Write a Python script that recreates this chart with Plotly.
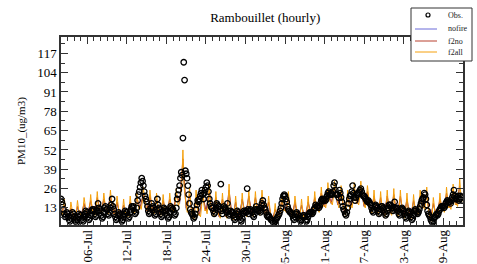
import pandas as pd
import plotly.graph_objects as go

# Observations, 3-hourly from 2019-07-02 00:00 to 2019-08-31 21:00
obs = [
    19, 17, 15, 12, 9, 7, 8, 10,
    9, 7, 5, 4, 6, 8, 10, 9,
    7, 5, 4, 3, 5, 7, 9, 8,
    8, 6, 5, 4, 7, 9, 11, 10,
    9, 7, 5, 6, 8, 11, 12, 11,
    12, 9, 7, 8, 11, 16, 13, 12,
    11, 8, 6, 7, 10, 13, 14, 12,
    12, 9, 8, 10, 13, 15, 19, 14,
    12, 9, 7, 5, 6, 8, 10, 9,
    8, 6, 4, 5, 7, 9, 11, 10,
    10, 8, 6, 7, 10, 12, 14, 13,
    14, 11, 9, 10, 13, 18, 22, 24,
    27, 30, 33, 31, 28, 24, 21, 19,
    17, 14, 11, 9, 10, 13, 16, 14,
    13, 10, 8, 9, 12, 19, 15, 13,
    12, 9, 7, 8, 11, 13, 12, 11,
    11, 8, 6, 7, 10, 14, 13, 12,
    12, 10, 8, 9, 13, 19, 22, 25,
    28, 33, 37, 35, 60, 111, 99, 38,
    36, 33, 28, 22, 16, 12, 10, 9,
    8, 6, 7, 9, 12, 15, 18, 17,
    19, 21, 23, 25, 22, 19, 23, 25,
    27, 30, 28, 24, 19, 16, 14, 13,
    13, 11, 9, 10, 13, 16, 15, 14,
    14, 12, 29, 11, 9, 12, 14, 13,
    12, 10, 16, 11, 8, 9, 11, 10,
    10, 8, 6, 5, 7, 9, 11, 10,
    9, 7, 5, 4, 6, 9, 11, 10,
    11, 10, 26, 12, 9, 11, 12, 11,
    10, 8, 7, 9, 12, 14, 12, 11,
    12, 11, 10, 13, 16, 18, 15, 13,
    12, 10, 8, 7, 8, 7, 6, 5,
    5, 4, 3, 3, 4, 5, 6, 7,
    8, 9, 11, 13, 16, 19, 21, 22,
    21, 19, 17, 14, 12, 11, 10, 10,
    9, 8, 6, 5, 7, 9, 10, 9,
    8, 6, 5, 4, 5, 7, 8, 8,
    7, 5, 4, 5, 7, 9, 10, 10,
    10, 9, 10, 12, 13, 15, 14, 14,
    14, 13, 14, 16, 18, 19, 18, 18,
    19, 18, 19, 21, 23, 24, 22, 22,
    23, 22, 24, 28, 30, 25, 22, 22,
    22, 20, 25, 23, 20, 17, 14, 12,
    11, 9, 8, 10, 13, 16, 19, 21,
    22, 24, 28, 23, 20, 18, 20, 22,
    22, 23, 24, 25, 26, 24, 22, 21,
    21, 20, 19, 18, 17, 18, 17, 16,
    15, 13, 11, 10, 12, 14, 15, 14,
    13, 11, 9, 10, 12, 14, 14, 13,
    12, 10, 8, 9, 11, 13, 15, 15,
    15, 14, 13, 11, 12, 17, 13, 12,
    13, 11, 9, 8, 10, 12, 13, 12,
    11, 9, 7, 6, 8, 10, 11, 10,
    9, 7, 5, 6, 8, 11, 12, 11,
    10, 9, 10, 12, 14, 16, 18, 19,
    20, 23, 22, 19, 15, 11, 9, 8,
    7, 5, 4, 3, 4, 6, 7, 8,
    9, 8, 9, 11, 12, 13, 14, 14,
    14, 13, 14, 16, 17, 18, 17, 17,
    17, 16, 18, 20, 22, 25, 21, 19,
    20, 19, 21, 18, 19, 21, 20, 18,
]

# Model f2all, 4-hourly (00,04,08,12,16,20)
f2all = [
    10, 8, 12, 19, 13, 9,
    7, 5, 9, 17, 11, 8,
    6, 5, 10, 18, 12, 9,
    8, 6, 11, 20, 13, 10,
    9, 7, 12, 22, 14, 10,
    10, 8, 13, 24, 15, 11,
    11, 9, 14, 23, 16, 12,
    12, 9, 15, 25, 17, 12,
    10, 8, 12, 21, 13, 9,
    8, 6, 11, 19, 12, 9,
    9, 7, 12, 21, 14, 10,
    11, 9, 14, 24, 16, 12,
    14, 12, 17, 27, 19, 14,
    12, 10, 15, 25, 16, 11,
    11, 9, 14, 23, 15, 11,
    10, 8, 13, 22, 14, 10,
    10, 8, 13, 23, 15, 11,
    12, 10, 16, 26, 18, 14,
    18, 22, 30, 52, 28, 18,
    14, 10, 16, 27, 15, 9,
    7, 5, 12, 25, 14, 8,
    9, 7, 14, 27, 16, 11,
    12, 9, 15, 29, 17, 11,
    10, 7, 13, 24, 14, 9,
    8, 6, 12, 23, 13, 8,
    8, 6, 13, 29, 14, 8,
    7, 5, 11, 21, 12, 7,
    7, 5, 12, 23, 13, 8,
    9, 7, 13, 25, 14, 9,
    9, 7, 13, 24, 14, 10,
    10, 8, 14, 25, 16, 11,
    9, 7, 12, 21, 12, 7,
    5, 4, 8, 16, 9, 6,
    8, 7, 12, 22, 15, 11,
    12, 10, 14, 24, 15, 10,
    8, 6, 11, 21, 12, 8,
    7, 5, 10, 19, 11, 7,
    7, 5, 11, 21, 12, 8,
    9, 7, 13, 24, 15, 11,
    12, 10, 15, 27, 18, 14,
    15, 13, 18, 30, 21, 17,
    17, 15, 20, 31, 22, 18,
    16, 13, 18, 28, 19, 14,
    11, 8, 14, 25, 16, 12,
    15, 13, 19, 30, 21, 16,
    17, 15, 20, 31, 22, 17,
    15, 13, 18, 28, 19, 14,
    11, 9, 14, 25, 15, 10,
    10, 8, 13, 24, 14, 10,
    9, 7, 13, 25, 15, 10,
    10, 8, 14, 26, 15, 10,
    9, 7, 13, 25, 14, 9,
    8, 6, 12, 23, 13, 8,
    7, 6, 11, 22, 13, 9,
    10, 8, 14, 25, 17, 13,
    14, 12, 16, 27, 14, 9,
    6, 4, 9, 20, 11, 7,
    8, 7, 13, 23, 15, 11,
    12, 10, 15, 27, 18, 13,
    14, 12, 17, 29, 20, 15,
    16, 14, 19, 33, 22, 17,
]

# Models nofire and f2no, 12-hourly (00, 12)
nofire = [
    9, 14, 6, 12, 5, 13, 7, 15, 8, 17, 9, 19, 10, 18, 11, 20, 9, 16, 7, 14,
    8, 16, 10, 19, 13, 22, 11, 20, 10, 18, 9, 17, 9, 18, 11, 21, 16, 40, 12, 21,
    6, 19, 8, 21, 11, 23, 9, 19, 7, 18, 7, 23, 6, 16, 6, 18, 8, 20, 8, 19,
    9, 20, 8, 16, 4, 11, 7, 17, 11, 19, 7, 16, 6, 14, 6, 16, 8, 19, 11, 22,
    14, 24, 16, 25, 15, 22, 10, 19, 14, 24, 16, 25, 14, 22, 10, 19, 9, 18, 8, 19,
    9, 20, 8, 19, 7, 17, 6, 17, 9, 19, 13, 21, 5, 15, 7, 18, 11, 21, 13, 23,
    15, 26,
]
f2no = [
    9, 15, 6, 13, 5, 14, 7, 16, 8, 18, 9, 20, 10, 19, 11, 21, 9, 17, 7, 15,
    8, 17, 10, 20, 13, 23, 11, 21, 10, 19, 9, 18, 9, 19, 11, 22, 17, 46, 13, 22,
    6, 20, 8, 22, 11, 24, 9, 20, 7, 19, 7, 25, 6, 17, 6, 19, 8, 21, 8, 20,
    9, 21, 8, 17, 4, 12, 7, 18, 11, 20, 7, 17, 6, 15, 6, 17, 8, 20, 11, 23,
    14, 26, 16, 27, 15, 24, 10, 21, 14, 26, 16, 27, 14, 24, 10, 21, 9, 20, 8, 21,
    9, 22, 8, 21, 7, 19, 6, 18, 9, 21, 13, 23, 5, 16, 7, 19, 11, 23, 13, 25,
    15, 28,
]

series_names = ["Obs.", "nofire", "f2no", "f2all"]
series_colors = ["black", "#6a6ad8", "#b8402e", "#f5a00c"]
y_ticks = [13, 26, 39, 52, 65, 78, 91, 104, 117]

t3 = pd.date_range("2019-07-02 00:00", periods=len(obs), freq="3h")
t4 = pd.date_range("2019-07-02 00:00", periods=len(f2all), freq="4h")
t12 = pd.date_range("2019-07-02 00:00", periods=len(nofire), freq="12h")

SERIF = "Liberation Serif, Times New Roman, serif"

fig = go.Figure()
fig.add_trace(go.Scatter(x=t12, y=nofire, mode="lines", name=series_names[1],
                         line=dict(color=series_colors[1], width=1)))
fig.add_trace(go.Scatter(x=t12, y=f2no, mode="lines", name=series_names[2],
                         line=dict(color=series_colors[2], width=1)))
fig.add_trace(go.Scatter(x=t4, y=f2all, mode="lines", name=series_names[3],
                         line=dict(color=series_colors[3], width=1)))
fig.add_trace(go.Scatter(x=t3, y=obs, mode="markers", name=series_names[0],
                         marker=dict(symbol="circle-open", size=5.5, color="black",
                                     line=dict(width=1.3, color="black"))))

axis_common = dict(showline=True, linecolor="#333", linewidth=1.5, mirror="ticks",
                   ticks="inside", tickcolor="#333", showgrid=False, zeroline=False,
                   tickfont=dict(family=SERIF, size=13, color="black"))

fig.update_xaxes(**axis_common, type="date",
                 range=["2019-07-02 00:00", "2019-09-01 00:00"],
                 tick0="2019-07-06", dtick=6 * 86400000, ticklen=7, tickwidth=1.2,
                 tickformat="%d-%b", tickangle=-90, automargin=False,
                 ticklabelstandoff=-2,
                 minor=dict(dtick=86400000, tick0="2019-07-06", ticks="inside",
                            ticklen=4, tickcolor="#333", tickwidth=1))
fig.update_yaxes(**axis_common, range=[1.5, 128], tickvals=y_ticks,
                 ticklen=7, tickwidth=1.2, automargin=False,
                 minor=dict(tickvals=[v - 6.5 for v in y_ticks] + [123.5],
                            ticks="inside", ticklen=4, tickcolor="#333", tickwidth=1))

# custom compact legend (paper coords: plot area 61..463 px wide, 37..225 px tall)
def px_x(px):
    return (px - 61) / 402.0

def px_y(py):
    return (225 - py) / 188.0

shapes = [dict(type="rect", xref="paper", yref="paper", x0=px_x(411), x1=px_x(472),
               y0=px_y(61), y1=px_y(8), line=dict(color="#333", width=1),
               fillcolor="white", layer="above")]
annotations = []
rows_y = [15, 29, 41, 52]
for i, (nm, col) in enumerate(zip(series_names, series_colors)):
    yy = rows_y[i]
    if i == 0:
        shapes.append(dict(type="circle", xref="paper", yref="paper",
                           x0=px_x(426), x1=px_x(430), y0=px_y(17), y1=px_y(13),
                           line=dict(color="black", width=1.2), layer="above"))
    else:
        shapes.append(dict(type="line", xref="paper", yref="paper",
                           x0=px_x(415), x1=px_x(437), y0=px_y(yy), y1=px_y(yy),
                           line=dict(color=col, width=1), layer="above"))
    annotations.append(dict(text=nm, xref="paper", yref="paper", x=px_x(446), y=px_y(yy),
                            xanchor="left", yanchor="middle", showarrow=False,
                            font=dict(family=SERIF, size=8, color="#222")))

annotations.append(dict(text="PM10_(ug/m3)", xref="paper", yref="paper", x=px_x(21), y=0.5,
                        xanchor="center", yanchor="middle", textangle=-90, showarrow=False,
                        font=dict(family=SERIF, size=11, color="black")))

fig.update_layout(
    width=477, height=264,
    margin=dict(l=61, r=14, t=37, b=39),
    paper_bgcolor="white", plot_bgcolor="white",
    font=dict(family=SERIF, color="black"),
    title=dict(text="Rambouillet (hourly)", x=0.556, xanchor="center", y=0.935, yanchor="middle",
               font=dict(family=SERIF, size=13, color="black")),
    showlegend=False,
    shapes=shapes,
    annotations=annotations,
)

fig.write_html("out.html", config={"displayModeBar": False},
               post_script="document.body.style.margin='0px';")
